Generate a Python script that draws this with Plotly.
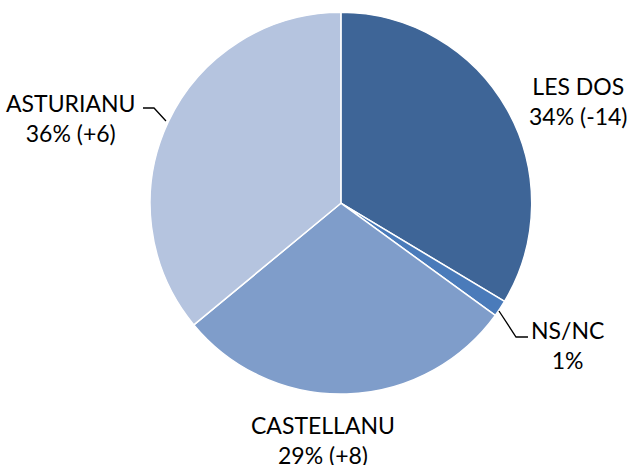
import plotly.graph_objects as go

labels = ["LES DOS", "NS/NC", "CASTELLANU", "ASTURIANU"]
values = [33.6, 1.4, 29.0, 36.0]
shown = ["34% (-14)", "1%", "29% (+8)", "36% (+6)"]
colors = ["#3E6597", "#4A7BBA", "#7F9DCA", "#B5C4DF"]

W, H = 633, 465

# label block centres in pixels
label_pos = [(578, 101), (567, 345), (323, 440), (70, 118)]

fig = go.Figure(go.Pie(
    labels=labels, values=values, sort=False, direction="clockwise",
    marker=dict(colors=colors, line=dict(color="white", width=1.5)),
    textinfo="none", hoverinfo="label+percent",
    domain=dict(x=[0.237, 0.840], y=[0.152, 0.974]),
    showlegend=False,
))

for lab, txt, (px, py) in zip(labels, shown, label_pos):
    fig.add_annotation(x=px / W, y=1 - py / H, xref="paper", yref="paper",
                       text=lab + "<br>" + txt, showarrow=False,
                       xanchor="center", yanchor="middle",
                       font=dict(family="Lato", size=23, color="#000000"))

def leader(points):
    d = "M " + " L ".join(f"{x / W:.4f},{1 - y / H:.4f}" for x, y in points)
    fig.add_shape(type="path", path=d, xref="paper", yref="paper",
                  line=dict(color="black", width=1.3))

leader([(143, 108), (154, 108), (166, 121)])
leader([(499, 311), (516, 337), (528, 337)])

fig.update_layout(width=W, height=H, margin=dict(l=0, r=0, t=0, b=0),
                  paper_bgcolor="white", plot_bgcolor="white")

fig.write_html("out.html", config={"displayModeBar": False},
               post_script="document.body.style.margin='0';")
